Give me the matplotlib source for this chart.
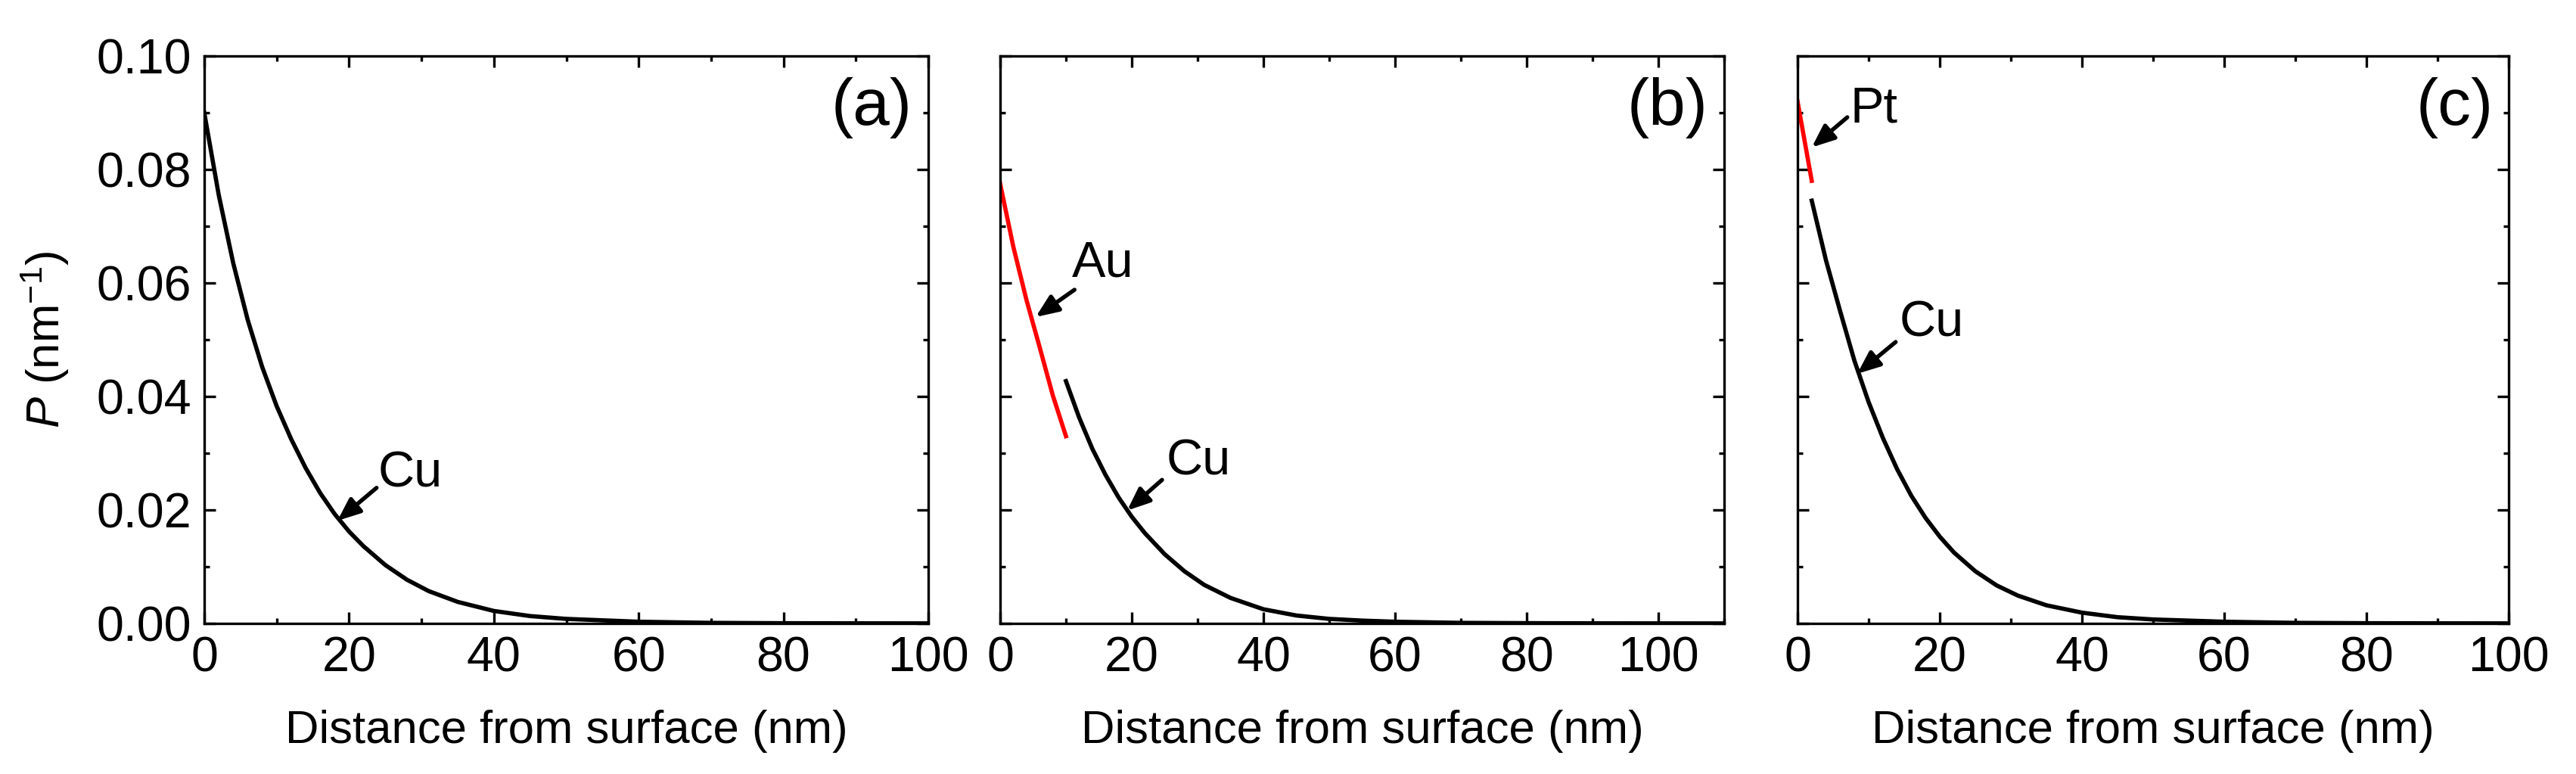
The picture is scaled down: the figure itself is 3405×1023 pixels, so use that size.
import matplotlib
matplotlib.use("Agg")
import matplotlib.pyplot as plt
from matplotlib.ticker import MultipleLocator

plt.rcParams['font.family'] = ['Liberation Sans', 'DejaVu Sans']
plt.rcParams['mathtext.fontset'] = 'custom'
plt.rcParams['mathtext.rm'] = 'Liberation Sans'
plt.rcParams['mathtext.it'] = 'Liberation Sans:italic'

# ---- data ----
x_cu_a = [0, 2, 4, 6, 8, 10, 12, 14, 16, 18, 20, 22, 25, 28, 31, 35, 40, 45, 50, 60, 70, 80, 90, 100]
p_cu_a = [0.0900, 0.0755, 0.0635, 0.0535, 0.0452, 0.0383, 0.0325, 0.0274, 0.0230, 0.0193, 0.0162,
          0.0136, 0.0103, 0.0077, 0.0057, 0.0038, 0.0022, 0.0013, 0.0008, 0.0003, 0.0001,
          0.00004, 0.00002, 0.00001]

x_au_b = [0, 2, 4, 6, 8, 10]
p_au_b = [0.0775, 0.0664, 0.0570, 0.0487, 0.0402, 0.0330]
x_cu_b = [10, 12, 14, 16, 18, 20, 22, 25, 28, 31, 35, 40, 45, 50, 55, 60, 70, 80, 90, 100, 110]
p_cu_b = [0.0427, 0.0363, 0.0308, 0.0262, 0.0222, 0.0188, 0.0159, 0.0122, 0.0092, 0.0068,
          0.0045, 0.0025, 0.0014, 0.0008, 0.0005, 0.0003, 0.0001, 0.00005, 0.00002, 0.00001, 0.0]

x_pt_c = [0, 1, 2]
p_pt_c = [0.0920, 0.0850, 0.0780]
x_cu_c = [2, 4, 6, 8, 10, 12, 14, 16, 18, 20, 22, 25, 28, 31, 35, 40, 45, 50, 60, 70, 80, 90, 100]
p_cu_c = [0.0745, 0.0640, 0.0550, 0.0463, 0.0390, 0.0327, 0.0272, 0.0225, 0.0186, 0.0153,
          0.0125, 0.0092, 0.0067, 0.0049, 0.0032, 0.0019, 0.0011, 0.0007, 0.0003, 0.0001,
          0.00004, 0.00002, 0.00001]

xlims = [(0, 100), (0, 110), (0, 100)]
xticks = [0, 20, 40, 60, 80, 100]
yticks = [0.00, 0.02, 0.04, 0.06, 0.08, 0.10]
panel_labels = ['(a)', '(b)', '(c)']

# ---- figure ----
W, H = 3405, 1023
fig = plt.figure(figsize=(W / 300, H / 300), dpi=300)
boxes = [(270, 957), (1322, 957), (2376, 940)]
top_px, bot_px = 74, 824
axes = []
for (l, w) in boxes:
    ax = fig.add_axes([l / W, (H - bot_px) / H, w / W, (bot_px - top_px) / H])
    axes.append(ax)

lw = 1.35
axes[0].plot(x_cu_a, p_cu_a, color='black', lw=lw)
axes[1].plot(x_au_b, p_au_b, color='red', lw=lw)
axes[1].plot(x_cu_b, p_cu_b, color='black', lw=lw)
axes[2].plot(x_pt_c, p_pt_c, color='red', lw=lw)
axes[2].plot(x_cu_c, p_cu_c, color='black', lw=lw)

for i, ax in enumerate(axes):
    ax.set_xlim(*xlims[i])
    ax.set_ylim(0, 0.10)
    ax.set_xticks(xticks)
    ax.set_yticks(yticks)
    ax.xaxis.set_minor_locator(MultipleLocator(10))
    ax.yaxis.set_minor_locator(MultipleLocator(0.01))
    ax.tick_params(which='both', direction='in', top=True, right=True, width=0.8)
    ax.tick_params(which='major', length=3.6, labelsize=15.5, pad=4)
    ax.tick_params(which='minor', length=1.7)
    for s in ax.spines.values():
        s.set_linewidth(0.8)
    ax.set_xlabel('Distance from surface (nm)', fontsize=14.8, labelpad=9)
    ax.text(0.978, 0.962, panel_labels[i], transform=ax.transAxes, ha='right', va='top',
            fontsize=21)
    if i == 0:
        ax.yaxis.set_major_formatter(matplotlib.ticker.FormatStrFormatter('%.2f'))
        ax.set_ylabel(r'$P$ (nm$^{-1}$)', fontsize=14.8, labelpad=8)
    else:
        ax.set_yticklabels([])

arrow = dict(arrowstyle='-|>,head_length=0.6,head_width=0.25', color='black', lw=1.3,
             shrinkA=0, shrinkB=0)

def note(ax, label, tip, tail, txt):
    ax.annotate('', xy=tip, xytext=tail, arrowprops=arrow)
    ax.text(txt[0], txt[1], label, ha='left', va='center', fontsize=16)

note(axes[0], 'Cu', (18.4, 0.0181), (23.8, 0.0239), (24.0, 0.0263))
note(axes[1], 'Au', (5.4, 0.0540), (11.3, 0.0588), (10.9, 0.0634))
note(axes[1], 'Cu', (19.3, 0.0199), (24.6, 0.0253), (25.3, 0.0285))
note(axes[2], 'Pt', (2.0, 0.0839), (7.0, 0.0892), (7.4, 0.0906))
note(axes[2], 'Cu', (8.4, 0.0440), (13.8, 0.0496), (14.3, 0.0529))

fig.savefig('out.png', dpi=300)
